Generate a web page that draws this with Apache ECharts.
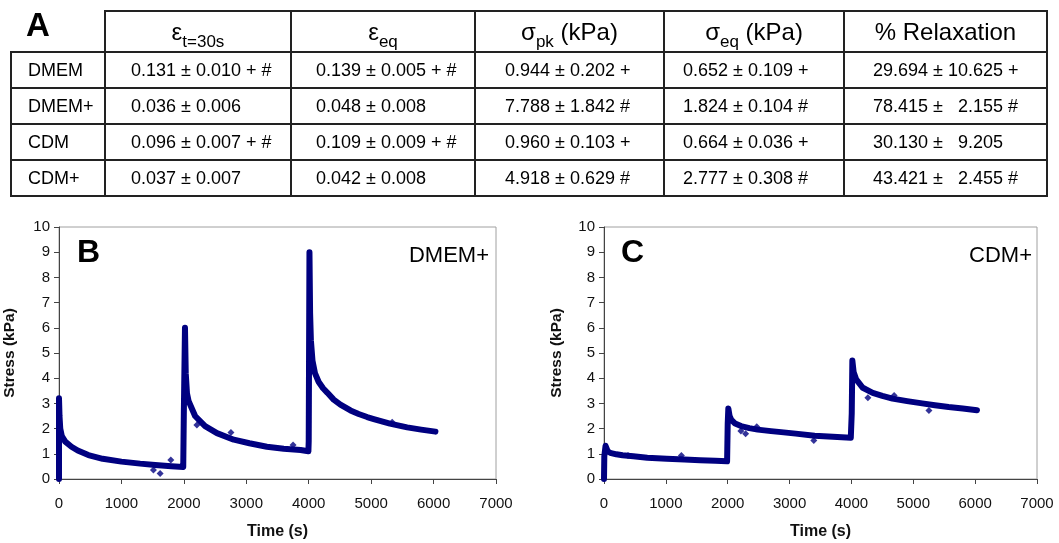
<!DOCTYPE html>
<html>
<head>
<meta charset="utf-8">
<script src="https://cdn.jsdelivr.net/npm/echarts@6/dist/echarts.min.js"></script>
<style>
  html, body { margin:0; padding:0; background:#fff; }
  body { width:1059px; height:543px; position:relative; overflow:hidden; font-family:"Liberation Sans", Arial, sans-serif; }
  #chart { position:absolute; left:0; top:0; width:1059px; height:543px; }
  #tbl { position:absolute; left:10px; top:10px; border-collapse:collapse; table-layout:fixed; color:#000; }
  #tbl td, #tbl th { border:2px solid #222; padding:0; white-space:pre; font-weight:normal; }
  #tbl th { font-size:24px; text-align:center; height:39px; }
  #tbl td { font-size:18px; text-align:left; height:34px; }
  #tbl th.blank { border-top:hidden; border-left:hidden; }
  #tbl sub { font-size:17px; vertical-align:-7px; line-height:0; }
  #lblA { position:absolute; left:26px; top:6px; font-size:33px; font-weight:bold; }
</style>
</head>
<body>
<div id="chart"></div>
<table id="tbl"><thead><tr id="hdr"></tr></thead><tbody id="body"></tbody></table>
<div id="lblA">A</div>
<script>
// ---------- table data ----------
const tableHeaders = ['', 'ε<sub>t=30s</sub>', 'ε<sub>eq</sub>', 'σ<sub>pk</sub> (kPa)', 'σ<sub>eq</sub> (kPa)', '% Relaxation'];
const rowLabels = ['DMEM', 'DMEM+', 'CDM', 'CDM+'];
const colStrain30 = ['0.131 ± 0.010 + #', '0.036 ± 0.006', '0.096 ± 0.007 + #', '0.037 ± 0.007'];
const colStrainEq = ['0.139 ± 0.005 + #', '0.048 ± 0.008', '0.109 ± 0.009 + #', '0.042 ± 0.008'];
const colStressPk = ['0.944 ± 0.202 +', '7.788 ± 1.842 #', '0.960 ± 0.103 +', '4.918 ± 0.629 #'];
const colStressEq = ['0.652 ± 0.109 +', '1.824 ± 0.104 #', '0.664 ± 0.036 +', '2.777 ± 0.308 #'];
const colRelax = ['29.694 ± 10.625 +', '78.415 ±   2.155 #', '30.130 ±   9.205', '43.421 ±   2.455 #'];

// ---------- panel B (DMEM+) ----------
const bTime   = [0, 0, 8, 20, 45, 100, 200, 300, 470, 700, 1000, 1300, 1540, 1800, 1990, 2000, 2018, 2030, 2050, 2075, 2180, 2260, 2340, 2530, 2800, 3050, 3330, 3600, 3870, 3995, 4000, 4012, 4022, 4035, 4060, 4100, 4160, 4230, 4300, 4400, 4508, 4669, 4800, 4936, 5042, 5300, 5577, 5800, 6030];
const bStress = [0, 3.2, 2.5, 2.0, 1.7, 1.48, 1.28, 1.13, 0.95, 0.8, 0.69, 0.61, 0.56, 0.51, 0.48, 2.7, 6.0, 4.2, 3.4, 3.1, 2.5, 2.3, 2.1, 1.82, 1.56, 1.42, 1.28, 1.2, 1.15, 1.1, 1.5, 9.0, 6.6, 5.5, 4.7, 4.2, 3.85, 3.6, 3.42, 3.15, 2.95, 2.72, 2.58, 2.46, 2.38, 2.2, 2.05, 1.96, 1.88];
const bOutTime   = [1513, 1620, 1791, 2209, 2754, 3749, 5337];
const bOutStress = [0.36, 0.22, 0.75, 2.14, 1.85, 1.35, 2.25];

// ---------- panel C (CDM+) ----------
const cTime   = [0, 5, 25, 60, 100, 200, 300, 474, 700, 1014, 1300, 1553, 1800, 1990, 2000, 2010, 2030, 2055, 2120, 2215, 2350, 2485, 2700, 2865, 3100, 3405, 3700, 3990, 4005, 4015, 4035, 4077, 4184, 4344, 4500, 4664, 4900, 5144, 5350, 5570, 5800, 6030];
const cStress = [0, 0.9, 1.32, 1.1, 1.04, 0.98, 0.94, 0.9, 0.84, 0.8, 0.77, 0.74, 0.72, 0.7, 2.2, 2.8, 2.5, 2.36, 2.2, 2.1, 2.02, 1.96, 1.9, 1.86, 1.8, 1.72, 1.68, 1.64, 2.6, 4.7, 4.25, 3.95, 3.62, 3.42, 3.3, 3.19, 3.09, 3.0, 2.93, 2.86, 2.8, 2.73];
const cOutTime   = [388, 1251, 2213, 2290, 2469, 3392, 4266, 4690, 5253];
const cOutStress = [0.93, 0.93, 1.9, 1.8, 2.07, 1.53, 3.22, 3.31, 2.72];

// ---------- axis ticks ----------
const xMin = 0, xMax = 7000, xStep = 1000;
const yMin = 0, yMax = 10, yStep = 1;

// ---------- build table ----------
const colPad = [16, 25, 24, 29, 18, 28];
const colWidths = [93, 184, 182, 187, 178, 201];
const hdr = document.getElementById('hdr');
tableHeaders.forEach((h, i) => {
  const th = document.createElement('th');
  th.innerHTML = h;
  th.style.width = colWidths[i] + 'px';
  if (i === 0) th.className = 'blank';
  hdr.appendChild(th);
});
const cols = [rowLabels, colStrain30, colStrainEq, colStressPk, colStressEq, colRelax];
const tb = document.getElementById('body');
rowLabels.forEach((_, r) => {
  const tr = document.createElement('tr');
  cols.forEach((c, i) => {
    const td = document.createElement('td');
    td.textContent = c[r];
    td.style.paddingLeft = colPad[i] + 'px';
    tr.appendChild(td);
  });
  tb.appendChild(tr);
});

// ---------- chart ----------
const FONT = '"Liberation Sans", Arial, sans-serif';
const NAVY = '#000080';
function pairs(a, b) { return a.map((t, i) => [t, b[i]]); }
function xAxis(idx) {
  return {
    type: 'value', gridIndex: idx, min: xMin, max: xMax, interval: xStep,
    axisLine: { show: true, onZero: false, lineStyle: { color: '#444', width: 1 } },
    axisTick: { show: true, inside: false, length: 5, lineStyle: { color: '#444' } },
    axisLabel: { margin: 17, fontSize: 15, color: '#111', fontFamily: FONT, formatter: v => String(v) },
    splitLine: { show: false },
    name: 'Time (s)', nameLocation: 'middle', nameGap: 45,
    nameTextStyle: { fontSize: 16, fontWeight: 'bold', color: '#111', fontFamily: FONT }
  };
}
function yAxis(idx, gap) {
  return {
    type: 'value', gridIndex: idx, min: yMin, max: yMax, interval: yStep,
    axisLine: { show: true, lineStyle: { color: '#444', width: 1 } },
    axisTick: { show: true, inside: false, length: 5, lineStyle: { color: '#444' } },
    axisLabel: { margin: 9, fontSize: 15, color: '#111', fontFamily: FONT },
    splitLine: { show: false },
    name: 'Stress (kPa)', nameLocation: 'middle', nameGap: gap,
    nameTextStyle: { fontSize: 15.5, fontWeight: 'bold', color: '#111', fontFamily: FONT }
  };
}
const chart = echarts.init(document.getElementById('chart'), null, { renderer: 'canvas' });
chart.setOption({
  animation: false,
  backgroundColor: '#fff',
  grid: [
    { left: 59, top: 227, width: 437, height: 252, show: true, borderColor: '#a0a0a0', borderWidth: 1 },
    { left: 604, top: 227, width: 433, height: 252, show: true, borderColor: '#a0a0a0', borderWidth: 1 }
  ],
  xAxis: [xAxis(0), xAxis(1)],
  yAxis: [yAxis(0, 41), yAxis(1, 39)],
  series: [
    { type: 'line', xAxisIndex: 0, yAxisIndex: 0, data: pairs(bTime, bStress), showSymbol: false, symbol: 'none',
      lineStyle: { color: NAVY, width: 6, join: 'round', cap: 'round' } },
    { type: 'scatter', xAxisIndex: 0, yAxisIndex: 0, data: pairs(bOutTime, bOutStress), symbol: 'diamond', symbolSize: 7,
      itemStyle: { color: NAVY } },
    { type: 'line', xAxisIndex: 1, yAxisIndex: 1, data: pairs(cTime, cStress), showSymbol: false, symbol: 'none',
      lineStyle: { color: NAVY, width: 6, join: 'round', cap: 'round' } },
    { type: 'scatter', xAxisIndex: 1, yAxisIndex: 1, data: pairs(cOutTime, cOutStress), symbol: 'diamond', symbolSize: 7,
      itemStyle: { color: NAVY } }
  ],
  graphic: [
    { type: 'text', left: 77, top: 237, style: { text: 'B', font: 'bold 32px ' + FONT, fill: '#000' } },
    { type: 'text', left: 621, top: 237, style: { text: 'C', font: 'bold 32px ' + FONT, fill: '#000' } },
    { type: 'text', right: 1059 - 489, top: 245, style: { text: 'DMEM+', font: '22px ' + FONT, fill: '#000' } },
    { type: 'text', right: 1059 - 1032, top: 245, style: { text: 'CDM+', font: '22px ' + FONT, fill: '#000' } }
  ]
});
</script>
</body>
</html>
